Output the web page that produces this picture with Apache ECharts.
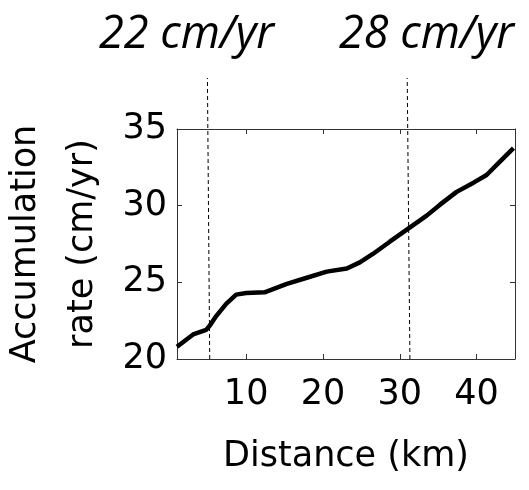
<!DOCTYPE html>
<html>
<head>
<meta charset="utf-8">
<script src="https://cdn.jsdelivr.net/npm/echarts@6/dist/echarts.min.js"></script>
<style>html,body{margin:0;padding:0;background:#fff;}#c{width:529px;height:490px;}</style>
</head>
<body>
<div id="c"></div>
<script>
// Curve: distance (km) vs accumulation rate (cm/yr)
const distance = [1.0, 3.1, 4.8, 5.3, 6.1, 7.4, 8.7, 10.0, 12.4, 15.3, 17.9, 20.5, 23.1, 24.8, 26.5, 28.7, 31.1, 33.5, 35.2, 37.4, 39.6, 41.3, 43.1, 44.8];
const rate     = [20.8, 21.6, 21.9, 22.2, 22.8, 23.6, 24.2, 24.3, 24.35, 24.9, 25.3, 25.7, 25.9, 26.3, 26.85, 27.65, 28.5, 29.35, 30.05, 30.9, 31.5, 32.0, 32.9, 33.75];
// Reference (dashed) lines: bottom and top ends in data units
const marker1X = [5.26, 4.96];
const marker2X = [31.32, 30.97];
const markerY  = [20, 38.33];
const markerLabels = ['22 cm/yr', '28 cm/yr'];
const xTicks = [10, 20, 30, 40];
const yTicks = [20, 25, 30, 35];

const chart = echarts.init(document.getElementById('c'), null, {renderer: 'canvas'});
const tickFont = {fontFamily: 'DejaVu Sans', fontSize: 35, color: '#000'};
const frame = {show: true, lineStyle: {color: '#333', width: 1}};
const noteFont = {fontFamily: 'Open Sans', fontStyle: 'italic', fontWeight: 'normal', fontSize: 45, color: '#000'};

chart.setOption({
  animation: false,
  backgroundColor: '#fff',
  title: [
    {text: markerLabels[0], left: 94, top: 8, textStyle: noteFont},
    {text: markerLabels[1], left: 334, top: 8, textStyle: noteFont}
  ],
  grid: {left: 177, right: 14, top: 129, bottom: 131, containLabel: false, outerBoundsMode: 'none'},
  xAxis: [
    {type: 'value', min: 1, max: 45, position: 'bottom',
     name: 'Distance (km)', nameLocation: 'middle', nameGap: 80,
     nameTextStyle: tickFont,
     axisLine: frame, splitLine: {show: false},
     axisTick: {show: true, inside: true, length: 5, customValues: xTicks, lineStyle: {color: '#333'}},
     axisLabel: {show: true, customValues: xTicks, margin: 18, ...tickFont}},
    {type: 'value', min: 1, max: 45, position: 'top',
     axisLine: frame, splitLine: {show: false},
     axisTick: {show: true, inside: true, length: 5, customValues: xTicks, lineStyle: {color: '#333'}},
     axisLabel: {show: false}}
  ],
  yAxis: [
    {type: 'value', min: 20, max: 35, interval: 5, position: 'left',
     name: 'Accumulation\nrate (cm/yr)', nameLocation: 'middle', nameRotate: 90, nameGap: 64,
     nameTextStyle: {...tickFont, lineHeight: 57},
     axisLine: frame, splitLine: {show: false},
     axisTick: {show: true, inside: true, length: 5, lineStyle: {color: '#333'}},
     axisLabel: {show: true, margin: 10, ...tickFont}},
    {type: 'value', min: 20, max: 35, interval: 5, position: 'right',
     axisLine: frame, splitLine: {show: false},
     axisTick: {show: true, inside: true, length: 5, lineStyle: {color: '#333'}},
     axisLabel: {show: false}}
  ],
  series: [
    {type: 'line', xAxisIndex: 0, yAxisIndex: 0, data: distance.map((d, i) => [d, rate[i]]),
     showSymbol: false, lineStyle: {color: '#000', width: 4.5}, z: 3},
    {type: 'line', xAxisIndex: 0, yAxisIndex: 0, clip: false,
     data: [[marker1X[0], markerY[0]], [marker1X[1], markerY[1]]],
     showSymbol: false, lineStyle: {color: '#000', width: 1, type: [4, 3]}, z: 2},
    {type: 'line', xAxisIndex: 0, yAxisIndex: 0, clip: false,
     data: [[marker2X[0], markerY[0]], [marker2X[1], markerY[1]]],
     showSymbol: false, lineStyle: {color: '#000', width: 1, type: [4, 3]}, z: 2}
  ]
});
</script>
</body>
</html>
